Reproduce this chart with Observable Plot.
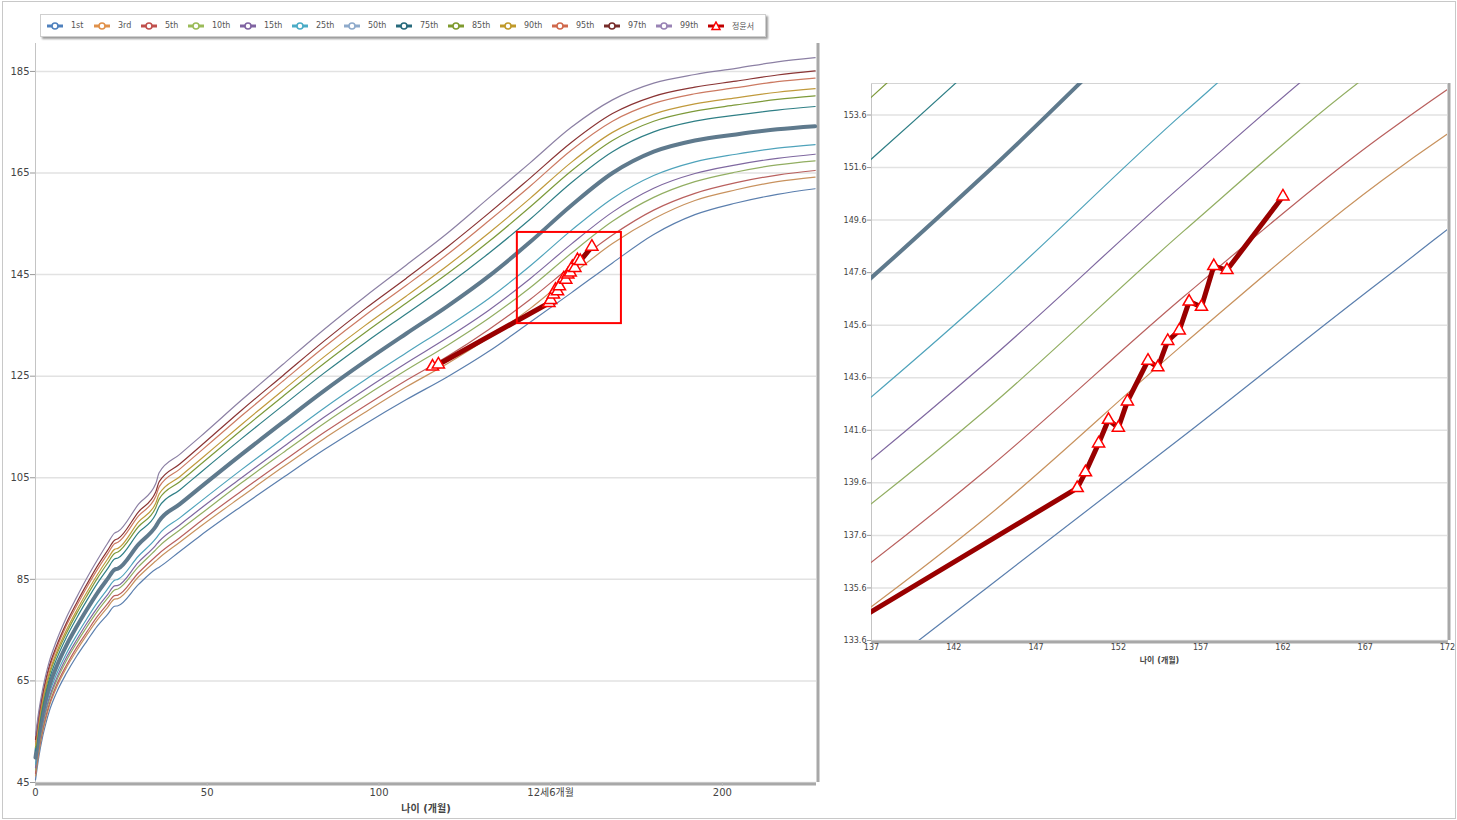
<!DOCTYPE html>
<html><head><meta charset="utf-8">
<script src="https://cdn.jsdelivr.net/npm/d3@7"></script>
<script src="https://cdn.jsdelivr.net/npm/@observablehq/plot@0.6"></script>
<style>
body{margin:0;background:#fff;font-family:"DejaVu Sans","Noto Sans CJK KR",sans-serif;}
#wrap{position:relative;width:1457px;height:820px;overflow:hidden;background:#fff;}
#border{position:absolute;left:2px;top:1px;width:1452px;height:816px;border:1px solid #c8c8c8;pointer-events:none;}
#leftc{position:absolute;left:0;top:0;}
#rightc{position:absolute;left:836px;top:0;}
#legend{position:absolute;left:40px;top:14px;width:726px;height:23px;border:1px solid #cfcfcf;background:#fff;box-shadow:2px 2px 2px #9a9a9a;display:flex;align-items:center;padding-left:6px;box-sizing:border-box;font-size:8px;color:#555;white-space:nowrap;}
.li{display:flex;align-items:center;width:52px;flex:none;}
.li.short{width:47px;}
.li svg{margin-right:8px;flex:none;}
</style></head><body>
<div id="wrap"><div id="leftc"></div><div id="rightc"></div><div id="legend"></div><div id="border"></div></div>
<script>
// ages in months
const ages = [0,1,2,3,4,6,9,12,15,18,21,23,24,30,35,36,42,48,60,72,84,96,108,120,132,144,156,168,180,192,204,216,227];
const p1  = [45.5,50.2,53.8,56.6,59.0,62.5,66.5,69.9,72.9,75.8,78.1,79.7,79.8,84.0,87.0,87.4,90.5,93.6,99.4,105.0,110.5,115.6,120.4,124.9,129.9,135.6,141.4,147.3,152.9,156.8,159.1,160.8,161.9];
const p3  = [46.3,51.0,54.6,57.5,60.0,63.5,67.6,71.0,74.1,77.0,79.5,81.1,81.2,85.5,88.6,89.2,92.3,95.4,101.3,107.1,112.7,117.9,122.9,127.5,132.6,138.3,144.9,151.1,156.0,159.6,161.7,163.3,164.2];
const p5  = [46.8,51.5,55.1,58.0,60.4,64.0,68.1,71.6,74.7,77.7,80.2,81.8,81.9,86.3,89.5,90.1,93.2,96.4,102.4,108.2,113.9,119.2,124.2,128.9,134.2,140.1,146.7,152.8,157.7,161.0,163.1,164.6,165.5];
const p10 = [47.5,52.2,55.8,58.8,61.2,64.8,69.0,72.5,75.7,78.7,81.3,82.9,83.1,87.5,90.8,91.5,94.7,97.8,104.0,109.9,115.7,121.1,126.2,131.1,136.4,142.4,149.2,155.5,160.2,163.3,165.2,166.6,167.4];
const p15 = [47.9,52.7,56.3,59.3,61.7,65.3,69.6,73.1,76.4,79.4,82.0,83.7,83.8,88.4,91.7,92.5,95.7,98.9,105.0,111.0,116.9,122.4,127.6,132.6,138.0,144.2,151.0,157.3,162.0,164.9,166.6,167.9,168.7];
const p25 = [48.6,53.4,57.1,60.0,62.5,66.1,70.4,74.0,77.3,80.4,83.1,84.8,85.0,89.6,93.0,93.9,97.1,100.3,106.6,112.7,118.7,124.3,129.6,134.8,140.3,146.7,153.7,160.0,164.5,167.2,168.7,169.9,170.6];
const p50 = [49.9,54.7,58.4,61.4,63.9,67.6,72.0,75.7,79.1,82.3,85.1,86.9,87.1,91.9,95.4,96.5,99.8,103.1,109.6,115.9,122.1,127.9,133.4,138.8,144.7,151.4,158.6,165.0,169.2,171.4,172.6,173.6,174.2];
const p75 = [51.2,56.0,59.8,62.8,65.3,69.1,73.6,77.4,80.9,84.2,87.1,89.0,89.2,94.2,97.8,99.3,102.6,106.0,112.7,119.2,125.6,131.6,137.3,143.0,149.2,155.9,163.1,169.2,173.1,175.2,176.4,177.4,178.1];
const p85 = [51.9,56.7,60.5,63.5,66.1,69.9,74.4,78.3,81.8,85.2,88.2,90.1,90.4,95.4,99.1,100.8,104.2,107.6,114.4,121.0,127.5,133.6,139.4,145.2,151.5,158.3,165.4,171.4,175.2,177.2,178.4,179.5,180.2];
const p90 = [52.3,57.2,61.0,64.0,66.6,70.4,75.0,78.9,82.5,85.9,89.0,90.9,91.1,96.3,100.0,101.8,105.2,108.6,115.5,122.2,128.8,135.0,140.8,146.8,153.2,160.0,167.1,173.0,176.6,178.6,179.8,180.9,181.6];
const p95 = [53.0,57.9,61.7,64.8,67.4,71.2,75.9,79.8,83.5,86.9,90.0,92.0,92.3,97.5,101.3,103.2,106.7,110.2,117.2,124.0,130.7,137.0,142.9,149.0,155.6,162.4,169.5,175.2,178.7,180.6,181.8,183.0,183.7];
const p97 = [53.5,58.4,62.2,65.3,67.9,71.7,76.4,80.4,84.1,87.6,90.7,92.7,93.0,98.3,102.2,104.2,107.7,111.2,118.3,125.1,131.9,138.3,144.3,150.5,157.1,164.0,171.0,176.7,180.1,181.9,183.1,184.3,185.1];
const p99 = [54.3,59.2,63.1,66.2,68.8,72.7,77.5,81.5,85.3,88.8,92.1,94.1,94.4,99.8,103.8,106.0,109.6,113.1,120.3,127.3,134.2,140.7,146.9,153.2,160.1,167.0,174.0,179.4,182.7,184.4,185.6,186.9,187.7];

const seriesNames = ["1st","3rd","5th","10th","15th","25th","50th","75th","85th","90th","95th","97th","99th"];
const seriesValues = [p1,p3,p5,p10,p15,p25,p50,p75,p85,p90,p95,p97,p99];
const seriesColors = ["#5b7fae","#c8925e","#b9605e","#92ae62","#7f68a0","#4fa3bb","#5f7a8d","#2f7f86","#7d9a3a","#c09a3c","#cc7a62","#8a3434","#8c80a4"];
const legendColors = ["#4f81bd","#e0914a","#c0504d","#9bbb59","#8064a2","#4bacc6","#8eaacb","#276a7c","#7f9a2f","#c09a2b","#d0694d","#772c2a","#9983b5"];

// patient 정윤서
const patientName = "정윤서";
const patientAge = [115.6,117.3,149.5,150.0,150.8,151.4,152.0,152.55,153.8,154.4,155.0,155.7,156.3,157.05,157.8,158.6,162.0];
const patientHeight = [126.9,127.3,139.4,140.0,141.1,142.0,141.7,142.7,144.25,144.0,145.0,145.4,146.5,146.3,147.85,147.7,150.5];

// axes
const leftXDomain = [0, 227.4];
const leftYDomain = [45, 190.5];
const leftXTicks = [0,50,100,150,200];
const leftXTickLabels = ["0","50","100","12세6개월","200"];
const leftYTicks = [45,65,85,105,125,145,165,185];
const rightXDomain = [137, 172];
const rightYDomain = [133.6, 154.8];
const rightXTicks = [137,142,147,152,157,162,167,172];
const rightYTicks = [133.6,135.6,137.6,139.6,141.6,143.6,145.6,147.6,149.6,151.6,153.6];
const xLabel = "나이 (개월)";
const zoomBox = [{x1:140.3, x2:170.6, y1:135.35, y2:153.3}];

const curves = [];
seriesNames.forEach((name, s) => {
  ages.forEach((a, i) => curves.push({series: name, age: a, h: seriesValues[s][i]}));
});
const patient = patientAge.map((a, i) => ({age: a, h: patientHeight[i]}));

function percentileLines(clip) {
  return seriesNames.map((name, s) => Plot.line(curves.filter(d => d.series === name), {
    x: "age", y: "h", stroke: seriesColors[s], strokeWidth: name === "50th" ? 4 : 1.2,
    curve: "monotone-x", clip
  }));
}

const fontFam = '"DejaVu Sans","Noto Sans CJK KR",sans-serif';
const xLabelMap = new Map(leftXTicks.map((t, i) => [t, leftXTickLabels[i]]));

const left = Plot.plot({
  width: 830, height: 820,
  marginLeft: 35, marginTop: 43, marginRight: 14, marginBottom: 38,
  x: {domain: leftXDomain},
  y: {domain: leftYDomain},
  style: {fontFamily: fontFam, fontSize: "10px", color: "#444", background: "transparent"},
  marks: [
    Plot.gridY(leftYTicks, {stroke: "#e2e2e2", strokeOpacity: 1, strokeWidth: 1.5}),
    Plot.ruleX([leftXDomain[0]], {stroke: "#c4c4c4"}),
    Plot.ruleY([leftYDomain[0]], {stroke: "#a8a8a8", strokeWidth: 3, dy: 1.5}),
    Plot.ruleX([leftXDomain[1]], {stroke: "#a8a8a8", strokeWidth: 3, dx: 1.5}),
    Plot.axisY(leftYTicks, {tickSize: 5, tickPadding: 1, label: null, stroke: "#999"}),
    Plot.axisX(leftXTicks, {tickSize: 4, tickPadding: 2, label: null, tickFormat: d => xLabelMap.get(d), stroke: "#bbb"}),
    ...percentileLines(false),
    Plot.line(patient, {x: "age", y: "h", stroke: "#990000", strokeWidth: 5}),
    Plot.dot(patient, {x: "age", y: "h", symbol: "triangle", r: 4.5, stroke: "#ff0000", fill: "white", strokeWidth: 1.5}),
    Plot.rect(zoomBox, {x1: "x1", x2: "x2", y1: "y1", y2: "y2", stroke: "#ff0000", fill: "none", strokeWidth: 2}),
    Plot.text([xLabel], {frameAnchor: "bottom", dy: 29, fontWeight: "bold", fontSize: 10, fill: "#444"})
  ]
});
document.getElementById("leftc").appendChild(left);

const right = Plot.plot({
  width: 621, height: 680,
  marginLeft: 35, marginTop: 83, marginRight: 10, marginBottom: 40,
  x: {domain: rightXDomain},
  y: {domain: rightYDomain},
  style: {fontFamily: fontFam, fontSize: "8px", color: "#444", background: "transparent"},
  marks: [
    Plot.gridY(rightYTicks, {stroke: "#e2e2e2", strokeOpacity: 1, strokeWidth: 1.5}),
    Plot.ruleX([rightXDomain[0]], {stroke: "#c4c4c4"}),
    Plot.ruleY([rightYDomain[1]], {stroke: "#d4d4d4"}),
    Plot.ruleY([rightYDomain[0]], {stroke: "#a8a8a8", strokeWidth: 3, dy: 1.5}),
    Plot.ruleX([rightXDomain[1]], {stroke: "#a8a8a8", strokeWidth: 3, dx: 1.5}),
    Plot.axisY(rightYTicks, {tickSize: 4, tickPadding: 1, label: null, tickFormat: d => d.toFixed(1), stroke: "#999"}),
    Plot.axisX(rightXTicks, {tickSize: 3, tickPadding: 1, label: null, stroke: "#bbb"}),
    ...percentileLines(true),
    Plot.line(patient, {x: "age", y: "h", stroke: "#990000", strokeWidth: 5, clip: true}),
    Plot.dot(patient, {x: "age", y: "h", symbol: "triangle", r: 4.5, stroke: "#ff0000", fill: "white", strokeWidth: 1.5, clip: true}),
    Plot.text([xLabel], {frameAnchor: "bottom", dy: 22, fontWeight: "bold", fontSize: 8, fill: "#444"})
  ]
});
document.getElementById("rightc").appendChild(right);

// legend
const legend = document.getElementById("legend");
const legendItems = seriesNames.map((n, i) => ({name: n, color: legendColors[i], sym: "circle"}))
  .concat([{name: patientName, color: "#c00000", sym: "triangle"}]);
legendItems.forEach((it, i) => {
  const d = document.createElement("div");
  d.className = i < 3 ? "li short" : "li";
  const mark = it.sym === "circle"
    ? `<circle cx="8" cy="5" r="3" fill="white" stroke="${it.color}" stroke-width="1.6"/>`
    : `<path d="M8,1 L12,8.5 L4,8.5 Z" fill="white" stroke="#ff0000" stroke-width="1.5"/>`;
  d.innerHTML = `<svg width="16" height="10"><line x1="0" y1="5" x2="16" y2="5" stroke="${it.color}" stroke-width="3"/>${mark}</svg><span>${it.name}</span>`;
  legend.appendChild(d);
});
</script>
</body></html>
